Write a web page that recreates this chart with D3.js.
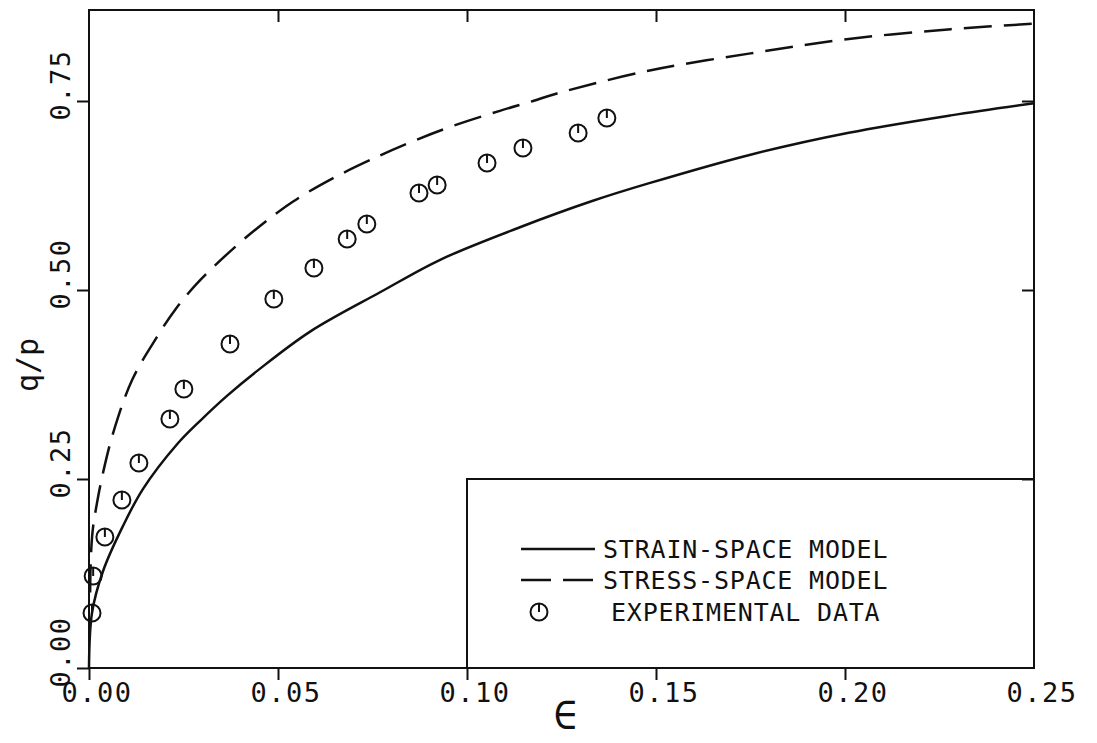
<!DOCTYPE html>
<html>
<head>
<meta charset="utf-8">
<script src="https://cdn.jsdelivr.net/npm/d3@7"></script>
<style>
  html, body { margin: 0; padding: 0; background: #fff; }
  svg { display: block; }
  text { font-family: "DejaVu Sans Mono", "Liberation Mono", monospace; fill: #111; }
</style>
</head>
<body>
<svg id="chart" width="1097" height="743"></svg>
<script>
// ---- data ----
const xTicks = [0, 0.05, 0.10, 0.15, 0.20, 0.25];
const yTicks = [0, 0.25, 0.50, 0.75];
const xTickLabels = ["0.00", "0.05", "0.10", "0.15", "0.20", "0.25"];
const yTickLabels = ["0.00", "0.25", "0.50", "0.75"];

const strainX = [0, 0.0008, 0.0037, 0.009, 0.0143, 0.0233, 0.0294, 0.0365, 0.045, 0.0585, 0.077, 0.0929, 0.114, 0.1333, 0.148, 0.175, 0.201, 0.228, 0.25];
const strainY = [0, 0.073, 0.128, 0.188, 0.237, 0.296, 0.327, 0.360, 0.395, 0.445, 0.497, 0.540, 0.583, 0.618, 0.641, 0.679, 0.708, 0.731, 0.747];

const stressX = [0.0003, 0.0005, 0.001, 0.0021, 0.0037, 0.0064, 0.0114, 0.018, 0.0228, 0.0294, 0.0426, 0.054, 0.0646, 0.077, 0.0868, 0.0963, 0.1087, 0.1175, 0.1238, 0.148, 0.175, 0.201, 0.228, 0.2524];
const stressY = [0.10, 0.147, 0.183, 0.218, 0.258, 0.311, 0.381, 0.438, 0.474, 0.513, 0.574, 0.617, 0.648, 0.678, 0.699, 0.717, 0.737, 0.750, 0.760, 0.790, 0.813, 0.832, 0.845, 0.853];

const expX = [0.0008, 0.0011, 0.0042, 0.0087, 0.0132, 0.0214, 0.0251, 0.0373, 0.0489, 0.0595, 0.0683, 0.0735, 0.0873, 0.0921, 0.1053, 0.1148, 0.1294, 0.1370];
const expY = [0.0728, 0.1217, 0.1733, 0.2222, 0.2712, 0.3294, 0.3690, 0.4286, 0.4881, 0.5291, 0.5675, 0.5873, 0.6283, 0.6389, 0.6680, 0.6878, 0.7077, 0.7275];

const legendLabels = ["STRAIN-SPACE MODEL", "STRESS-SPACE MODEL", "EXPERIMENTAL DATA"];
const xLabel = "\u2208";
const yLabel = "q/p";

// ---- layout ----
const svg = d3.select("#chart");
const x = d3.scaleLinear().domain([0, 0.25]).range([89, 1034]);
const y = d3.scaleLinear().domain([0, 0.25]).range([668, 479]);
const yTop = 10;
const ink = "#111";

// frame
svg.append("rect")
  .attr("x", x(0)).attr("y", yTop)
  .attr("width", x(0.25) - x(0)).attr("height", y(0) - yTop)
  .attr("fill", "none").attr("stroke", ink).attr("stroke-width", 2);

// bottom axis (outward ticks)
const gb = svg.append("g").attr("transform", `translate(0,${y(0)})`)
  .call(d3.axisBottom(x).tickValues(xTicks.slice(0, 5)).tickSize(12).tickFormat(""));
// top axis (inward ticks)
const gt = svg.append("g").attr("transform", `translate(0,${yTop})`)
  .call(d3.axisBottom(x).tickValues(xTicks.slice(1, 5)).tickSize(12).tickFormat(""));
// left axis (outward ticks)
const gl = svg.append("g").attr("transform", `translate(${x(0)},0)`)
  .call(d3.axisLeft(y).tickValues(yTicks).tickSize(12).tickFormat(""));
// right axis (inward ticks)
const gr = svg.append("g").attr("transform", `translate(${x(0.25)},0)`)
  .call(d3.axisLeft(y).tickValues(yTicks.slice(1)).tickSize(12).tickFormat(""));
[gb, gt, gl, gr].forEach(g => {
  g.select(".domain").remove();
  g.selectAll(".tick line").attr("stroke", ink).attr("stroke-width", 2);
});

// tick labels
svg.append("g").selectAll("text").data(xTicks).join("text")
  .attr("x", d => x(d) + 8)
  .attr("y", 702)
  .attr("text-anchor", "middle")
  .attr("font-size", 27)
  .attr("letter-spacing", 1.5)
  .text((d, i) => xTickLabels[i]);

svg.append("g").selectAll("text").data(yTicks).join("text")
  .attr("transform", d => `translate(70,${y(d) - 16}) rotate(-90)`)
  .attr("text-anchor", "middle")
  .attr("font-size", 27)
  .attr("letter-spacing", 1.5)
  .text((d, i) => yTickLabels[i]);

// axis titles
svg.append("text")
  .attr("x", 565).attr("y", 729)
  .attr("text-anchor", "middle")
  .attr("font-size", 40)
  .attr("font-family", "DejaVu Sans")
  .text(xLabel);

svg.append("text")
  .attr("transform", "translate(38,365) rotate(-90)")
  .attr("text-anchor", "middle")
  .attr("font-size", 30)
  .text(yLabel);

// curves
const line = d3.line().x(d => x(d[0])).y(d => y(d[1])).curve(d3.curveCatmullRom.alpha(0.5));
svg.append("path")
  .datum(strainX.map((v, i) => [v, strainY[i]]))
  .attr("d", line)
  .attr("fill", "none").attr("stroke", ink).attr("stroke-width", 2.5);

svg.append("path")
  .datum(stressX.map((v, i) => [v, stressY[i]]))
  .attr("d", line)
  .attr("fill", "none").attr("stroke", ink).attr("stroke-width", 2.5)
  .attr("stroke-dasharray", "28,12");

// markers
function marker(g, cx, cy) {
  g.append("circle").attr("cx", cx).attr("cy", cy).attr("r", 8.5)
    .attr("fill", "none").attr("stroke", ink).attr("stroke-width", 2);
  g.append("line").attr("x1", cx).attr("y1", cy).attr("x2", cx).attr("y2", cy - 8.5)
    .attr("stroke", ink).attr("stroke-width", 2);
}
const gm = svg.append("g");
expX.forEach((v, i) => marker(gm, x(v), y(expY[i])));

// legend box
svg.append("rect")
  .attr("x", x(0.10)).attr("y", y(0.25))
  .attr("width", x(0.25) - x(0.10)).attr("height", y(0) - y(0.25))
  .attr("fill", "none").attr("stroke", ink).attr("stroke-width", 2);

const lg = svg.append("g");
const rows = [549, 580, 612];
lg.append("line").attr("x1", 521).attr("x2", 595).attr("y1", rows[0]).attr("y2", rows[0])
  .attr("stroke", ink).attr("stroke-width", 2.5);
lg.append("line").attr("x1", 521).attr("x2", 597).attr("y1", rows[1]).attr("y2", rows[1])
  .attr("stroke", ink).attr("stroke-width", 2.5).attr("stroke-dasharray", "30,12");
marker(lg, 539, rows[2]);
lg.selectAll("text").data(legendLabels).join("text")
  .attr("x", (d, i) => i === 2 ? 611 : 603)
  .attr("y", (d, i) => rows[i] + 9)
  .attr("font-size", 25)
  .attr("letter-spacing", 0.8)
  .text(d => d);
</script>
</body>
</html>
